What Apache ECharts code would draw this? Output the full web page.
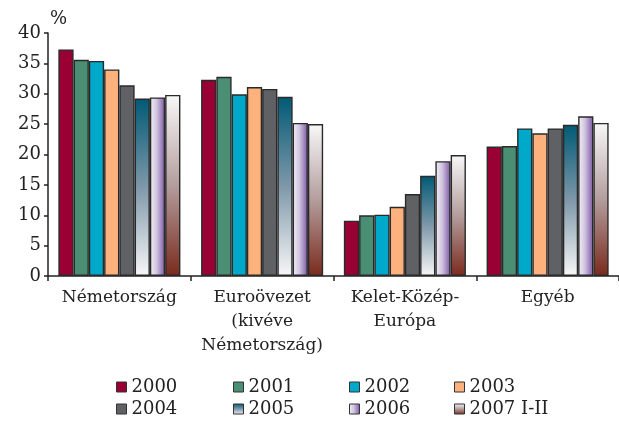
<!DOCTYPE html>
<html>
<head>
<meta charset="utf-8">
<script src="https://cdn.jsdelivr.net/npm/echarts@6/dist/echarts.min.js"></script>
<style>html,body{margin:0;padding:0;background:#fff}#c{width:619px;height:424px}</style>
</head>
<body>
<div id="c"></div>
<script>
var categories = ['Németország', 'Euroövezet\n(kivéve\nNémetország)', 'Kelet-Közép-\nEurópa', 'Egyéb'];
var seriesNames = ['2000', '2001', '2002', '2003', '2004', '2005', '2006', '2007 I-II'];
var v2000 = [37.3, 32.3, 9.1, 21.3];
var v2001 = [35.6, 32.8, 10.0, 21.4];
var v2002 = [35.4, 29.9, 10.1, 24.3];
var v2003 = [34.0, 31.1, 11.4, 23.5];
var v2004 = [31.4, 30.8, 13.5, 24.3];
var v2005 = [29.2, 29.5, 16.5, 24.9];
var v2006 = [29.4, 25.2, 18.9, 26.3];
var v2007 = [29.8, 25.0, 19.9, 25.2];
var values = [v2000, v2001, v2002, v2003, v2004, v2005, v2006, v2007];
var yTicks = [0, 5, 10, 15, 20, 25, 30, 35, 40];

var FONT = 'DejaVu Serif';
var G = echarts.graphic.LinearGradient;
var colors = [
  '#990033',
  '#4a8f73',
  '#00a8c9',
  '#fdb17d',
  '#5f6164',
  new G(0, 0, 0, 1, [{offset: 0, color: '#005a75'}, {offset: 0.5, color: '#7f98aa'}, {offset: 1, color: '#f7f7f7'}]),
  new G(0, 0, 1, 0, [{offset: 0, color: '#f4f2f7'}, {offset: 0.45, color: '#cfc3df'}, {offset: 1, color: '#7a55a3'}]),
  new G(0, 0, 0, 1, [{offset: 0, color: '#f8f8f8'}, {offset: 0.5, color: '#b39d9d'}, {offset: 1, color: '#7a2a1c'}])
];

var series = seriesNames.map(function (n, i) {
  return {
    name: n, type: 'bar', data: values[i],
    barGap: '0%', barCategoryGap: '14.5%',
    itemStyle: {color: colors[i], borderColor: '#2a2a2a', borderWidth: 1.4},
    emphasis: {disabled: true}
  };
});

var legendX = [116, 233, 349, 454];
var legendY = [378, 400];
var legends = seriesNames.map(function (n, i) {
  return {
    data: [{name: n, textStyle: {fontFamily: FONT, fontSize: 18, color: '#222'}}],
    left: legendX[i % 4], top: legendY[Math.floor(i / 4)],
    itemWidth: 10, itemHeight: 10, icon: 'rect', itemGap: 0,
    itemStyle: {borderColor: '#333', borderWidth: 1},
    textStyle: {fontFamily: FONT, fontSize: 18, color: '#222'},
    selectedMode: false, padding: 0
  };
});

var chart = echarts.init(document.getElementById('c'), null, {renderer: 'canvas'});
chart.setOption({
  animation: false,
  backgroundColor: '#fff',
  textStyle: {fontFamily: FONT},
  grid: {left: 48, right: -6, top: 33, bottom: 148, containLabel: false},
  legend: legends,
  xAxis: {
    type: 'category', data: categories,
    axisLine: {lineStyle: {color: '#222', width: 1.5}},
    axisTick: {show: true, length: 5, lineStyle: {color: '#222', width: 1.5}},
    axisLabel: {fontFamily: FONT, fontSize: 17, color: '#222', lineHeight: 24, margin: 10, interval: 0}
  },
  yAxis: {
    type: 'value', min: yTicks[0], max: yTicks[yTicks.length - 1], interval: 5,
    name: '%', nameLocation: 'end', nameGap: 5,
    nameTextStyle: {fontFamily: FONT, fontSize: 18, color: '#222', align: 'left', padding: [0, 0, 0, 2]},
    axisLine: {show: true, lineStyle: {color: '#222', width: 1.5}},
    axisTick: {show: true, length: 4, lineStyle: {color: '#222', width: 1.5}},
    splitLine: {show: false},
    axisLabel: {fontFamily: FONT, fontSize: 18, color: '#222', margin: 7}
  },
  series: series
});
</script>
</body>
</html>
